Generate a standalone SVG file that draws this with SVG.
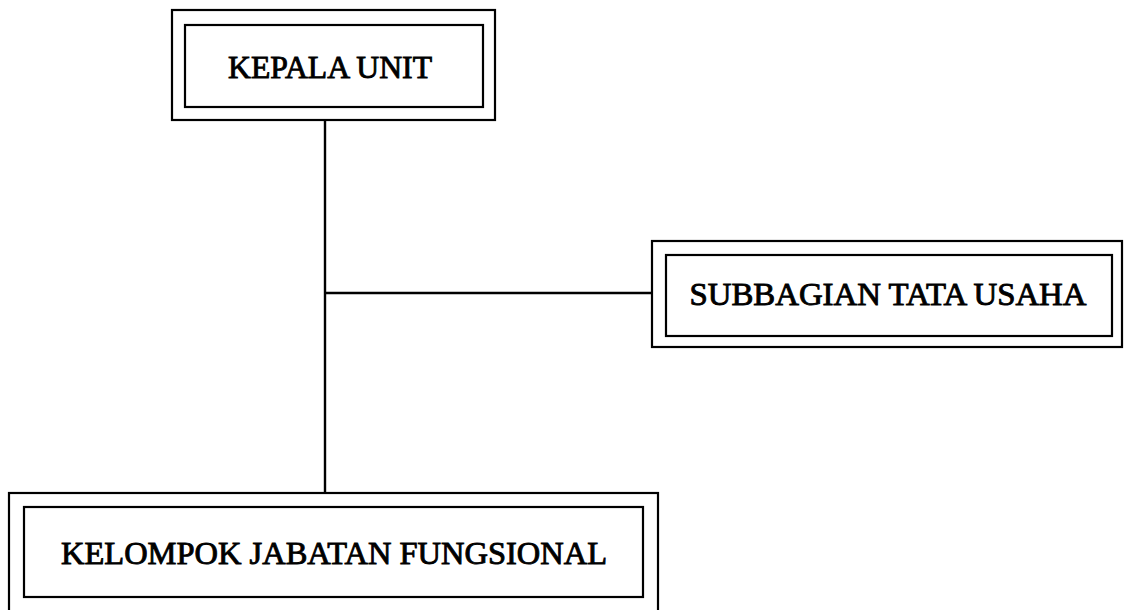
<svg xmlns="http://www.w3.org/2000/svg" width="1124" height="610" viewBox="0 0 1124 610">
<style>
.box{fill:none;stroke:#000;stroke-width:2.2}
.lbl{font-family:"Liberation Serif","Times New Roman",serif;font-size:32px;fill:#000;stroke:#000;stroke-width:0.9;text-anchor:middle}
.conn{stroke:#000;stroke-width:2.4;fill:none}
</style>
<rect width="1124" height="610" fill="#fff"/>
<g id="connectors">
<line class="conn" x1="325" y1="120" x2="325" y2="493"/>
<line class="conn" x1="325" y1="293" x2="652" y2="293"/>
</g>
<g id="kepala-unit">
<rect class="box" x="172" y="10" width="323" height="110"/>
<rect class="box" x="185" y="25" width="298" height="82"/>
<text class="lbl" x="330" y="78" textLength="204" lengthAdjust="spacingAndGlyphs">KEPALA UNIT</text>
</g>
<g id="subbagian-tata-usaha">
<rect class="box" x="652" y="241" width="470" height="106"/>
<rect class="box" x="666" y="255" width="446" height="81"/>
<text class="lbl" x="888" y="305" textLength="397" lengthAdjust="spacingAndGlyphs">SUBBAGIAN TATA USAHA</text>
</g>
<g id="kelompok-jabatan-fungsional">
<rect class="box" x="9" y="493" width="649" height="125"/>
<rect class="box" x="24" y="507" width="619" height="90"/>
<text class="lbl" x="334" y="564" textLength="546" lengthAdjust="spacingAndGlyphs">KELOMPOK JABATAN FUNGSIONAL</text>
</g>
</svg>
